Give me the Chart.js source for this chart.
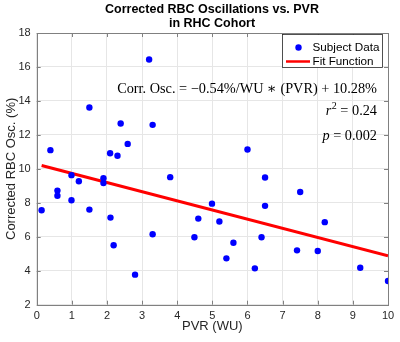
<!DOCTYPE html>
<html>
<head>
<meta charset="utf-8">
<script src="https://cdn.jsdelivr.net/npm/chart.js@4"></script>
<style>
  html, body { margin: 0; padding: 0; background: #fff; }
  #wrap { width: 400px; height: 342px; }
</style>
</head>
<body>
<div id="wrap"><canvas id="rbcChart" width="400" height="342"></canvas></div>
<script>
// subject data
const pvr = [0.14, 0.39, 0.59, 0.59, 0.99, 0.99, 1.2, 1.5, 1.5, 1.9, 1.9, 2.09, 2.1, 2.19, 2.3, 2.39, 2.59, 2.8, 3.2, 3.3,
             3.3, 3.8, 4.49, 4.6, 4.99, 5.2, 5.4, 5.6, 6.0, 6.21, 6.4, 6.5, 6.5, 7.41, 7.5, 8.0, 8.2, 9.21, 10.0];
const corrOsc = [7.56, 11.1, 8.72, 8.42, 9.63, 8.15, 9.27, 13.61, 7.6, 9.45, 9.16, 10.92, 7.13, 5.5, 10.77, 12.67, 11.47, 3.77, 16.44, 12.59,
                 6.15, 9.51, 5.97, 7.07, 7.95, 6.9, 4.73, 5.65, 11.14, 4.14, 5.97, 9.49, 7.82, 5.2, 8.64, 5.16, 6.86, 4.18, 3.4];
// fit line end points
const fitX = [0.14, 10];
const fitY = [10.2, 4.88];

const xTicks = [0, 1, 2, 3, 4, 5, 6, 7, 8, 9, 10];
const yTicks = [2, 4, 6, 8, 10, 12, 14, 16, 18];

const titleLines = ['Corrected RBC Oscillations vs. PVR', 'in RHC Cohort'];
const legendLabels = ['Subject Data', 'Fit Function'];

const sans = '"Liberation Sans", Arial, sans-serif';
const serif = '"Liberation Serif", "DejaVu Serif", serif';

// title, box, inward ticks, legend and the fit text
const extras = {
    id: 'extras',
    afterDraw(chart) {
        const ctx = chart.ctx;
        const a = chart.chartArea;
        const xs = chart.scales.x, ys = chart.scales.y;
        ctx.save();

        // box + ticks
        ctx.strokeStyle = '#808080';
        ctx.lineWidth = 1;
        ctx.strokeRect(Math.round(a.left) + 0.5, Math.round(a.top) + 0.5,
                       Math.round(a.right - a.left), Math.round(a.bottom - a.top));
        ctx.beginPath();
        xTicks.forEach(v => {
            const px = Math.round(xs.getPixelForValue(v)) + 0.5;
            ctx.moveTo(px, a.bottom); ctx.lineTo(px, a.bottom - 4);
            ctx.moveTo(px, a.top); ctx.lineTo(px, a.top + 4);
        });
        yTicks.forEach(v => {
            const py = Math.round(ys.getPixelForValue(v)) + 0.5;
            ctx.moveTo(a.left, py); ctx.lineTo(a.left + 4, py);
            ctx.moveTo(a.right, py); ctx.lineTo(a.right - 4, py);
        });
        ctx.stroke();

        // title
        ctx.fillStyle = '#000';
        ctx.font = 'bold 12.5px ' + sans;
        ctx.textAlign = 'center';
        ctx.textBaseline = 'middle';
        ctx.fillText(titleLines[0], 212, 10);
        ctx.fillText(titleLines[1], 212, 24);

        // axis titles
        ctx.fillStyle = '#262626';
        ctx.font = '13px ' + sans;
        ctx.fillText('PVR (WU)', (a.left + a.right) / 2, 326);
        ctx.save();
        ctx.translate(11, (a.top + a.bottom) / 2);
        ctx.rotate(-Math.PI / 2);
        ctx.fillText('Corrected RBC Osc. (%)', 0, 0);
        ctx.restore();

        // legend
        ctx.fillStyle = '#fff';
        ctx.fillRect(282.5, 34.5, 100, 33);
        ctx.strokeStyle = '#262626';
        ctx.lineWidth = 0.8;
        ctx.strokeRect(282.5, 34.5, 100, 33);
        ctx.fillStyle = '#0000ff';
        ctx.beginPath();
        ctx.arc(298.5, 47.5, 3.2, 0, Math.PI * 2);
        ctx.fill();
        ctx.strokeStyle = '#ff0000';
        ctx.lineWidth = 2.5;
        ctx.beginPath();
        ctx.moveTo(286, 61.5); ctx.lineTo(310, 61.5);
        ctx.stroke();
        ctx.fillStyle = '#000';
        ctx.font = '11.7px ' + sans;
        ctx.textAlign = 'left';
        ctx.fillText(legendLabels[0], 312.5, 47.5);
        ctx.fillText(legendLabels[1], 312.5, 61.5);

        // fit equation
        ctx.textAlign = 'right';
        ctx.font = '14.3px ' + serif;
        ctx.fillText('Corr. Osc. = \u22120.54%/WU \u2217 (PVR) + 10.28%', 377, 89);
        ctx.fillText(' = 0.24', 377, 111);
        ctx.fillText(' = 0.002', 377, 136);
        const w1 = ctx.measureText(' = 0.24').width;
        const w2 = ctx.measureText(' = 0.002').width;
        ctx.font = '10px ' + serif;
        const w3 = ctx.measureText('2').width;
        ctx.fillText('2', 377 - w1, 106);
        ctx.font = 'italic 14.3px ' + serif;
        ctx.fillText('r', 377 - w1 - w3 - 0.5, 111);
        ctx.fillText('p', 377 - w2, 136);

        ctx.restore();
    }
};

new Chart(document.getElementById('rbcChart'), {
    type: 'scatter',
    data: {
        datasets: [{
            label: legendLabels[0],
            data: pvr.map((x, i) => ({ x: x, y: corrOsc[i] })),
            backgroundColor: '#0000ff',
            borderWidth: 0,
            pointRadius: 3.2,
            order: 1
        }, {
            label: legendLabels[1],
            type: 'line',
            data: fitX.map((x, i) => ({ x: x, y: fitY[i] })),
            borderColor: '#ff0000',
            borderWidth: 3,
            pointRadius: 0,
            fill: false,
            order: 2
        }]
    },
    options: {
        responsive: false,
        animation: false,
        layout: { padding: { top: 33, right: 12, left: 0, bottom: 0 } },
        plugins: {
            legend: { display: false },
            tooltip: { enabled: false }
        },
        scales: {
            x: {
                type: 'linear',
                min: 0, max: 10,
                afterBuildTicks: s => { s.ticks = xTicks.map(v => ({ value: v })); },
                afterFit: s => { s.height = 37.3; },
                grid: { color: '#e6e6e6', drawTicks: false },
                border: { display: false },
                ticks: { color: '#262626', font: { family: sans, size: 11 }, padding: 5, maxRotation: 0 }
            },
            y: {
                type: 'linear',
                min: 2, max: 18,
                afterBuildTicks: s => { s.ticks = yTicks.map(v => ({ value: v })); },
                afterFit: s => { s.width = 36.7; },
                grid: { color: '#e6e6e6', drawTicks: false },
                border: { display: false },
                ticks: { color: '#262626', font: { family: sans, size: 11 }, padding: 6 }
            }
        }
    },
    plugins: [extras]
});
</script>
</body>
</html>
